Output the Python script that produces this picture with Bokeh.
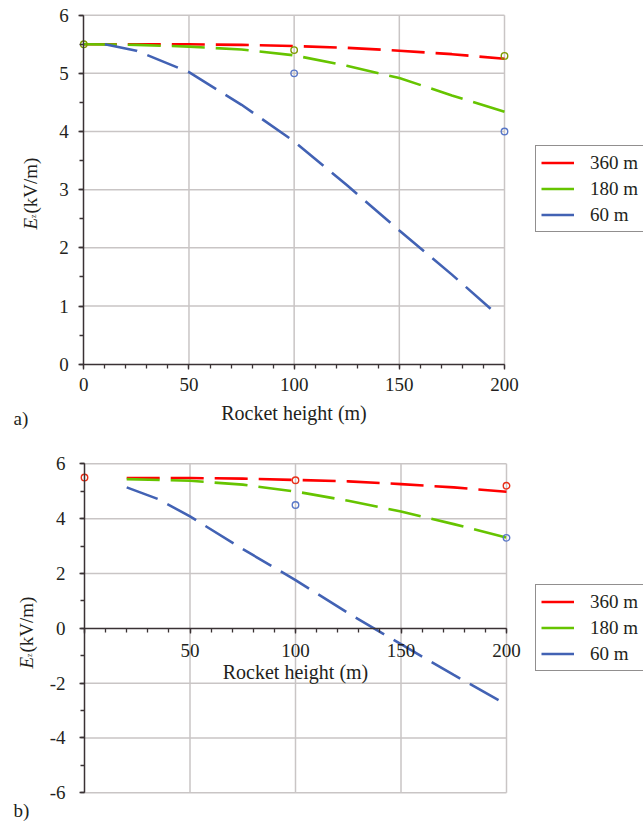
import math
from bokeh.plotting import figure
from bokeh.layouts import column
from bokeh.models import SingleIntervalTicker, Legend, LegendItem, Label, Range1d
from bokeh.embed import file_html
from bokeh.resources import INLINE

# ---------------- data: panel a) ----------------
a_x_360 = [0, 25, 50, 75, 100, 125, 150, 175, 200]
a_e_360 = [5.50, 5.50, 5.50, 5.49, 5.47, 5.44, 5.39, 5.33, 5.25]
a_x_180 = [0, 25, 50, 75, 100, 125, 150, 175, 200]
a_e_180 = [5.50, 5.49, 5.46, 5.41, 5.31, 5.13, 4.92, 4.62, 4.34]
a_x_60 = [10, 25, 50, 75, 100, 125, 150, 175, 197]
a_e_60 = [5.50, 5.39, 5.02, 4.46, 3.83, 3.08, 2.30, 1.54, 0.84]
a_pts1_x = [0, 100, 200]
a_pts1_e = [5.5, 5.4, 5.3]
a_pts2_x = [100, 200]
a_pts2_e = [5.0, 4.0]
a_ylim = (0, 6)
a_yticks_major = 1

# ---------------- data: panel b) ----------------
b_x_360 = [20, 50, 75, 100, 125, 150, 175, 200]
b_e_360 = [5.48, 5.48, 5.46, 5.41, 5.36, 5.26, 5.14, 4.98]
b_x_180 = [20, 50, 75, 100, 125, 150, 175, 200]
b_e_180 = [5.44, 5.38, 5.24, 4.99, 4.65, 4.26, 3.80, 3.31]
b_x_60 = [20, 35, 50, 75, 100, 125, 150, 175, 198]
b_e_60 = [5.14, 4.71, 4.08, 2.89, 1.76, 0.55, -0.58, -1.70, -2.70]
b_pts1_x = [0, 100, 200]
b_pts1_e = [5.5, 5.4, 5.2]
b_pts2_x = [100, 200]
b_pts2_e = [4.5, 3.3]
b_ylim = (-6, 6)
b_yticks_major = 2

series_names = ["360 m", "180 m", "60 m"]
xlim = (0, 200)
x_ticks_interval = 50
xlabel = "Rocket height (m)"

FONT = "Liberation Serif"
RED = "#ff0000"
GREEN = "#66c400"
BLUE = "#4262b4"
GRID = "#c9c5c5"
AXIS = "#3a3234"
TXT = "#231f20"
DASH = "33 11"

W = 643


def ranges(px0, px1, size_x, py_top, py_bot, size_y, ylim):
    # map data limits to chosen pixel positions; frame covers whole figure
    kx = (xlim[1] - xlim[0]) / (px1 - px0)
    x_rng = Range1d(xlim[0] - px0 * kx, xlim[0] + (size_x - px0) * kx)
    ky = (ylim[1] - ylim[0]) / (py_bot - py_top)
    y_rng = Range1d(ylim[0] - (size_y - py_bot) * ky, ylim[1] + py_top * ky)
    return x_rng, y_rng


def make_fig(H, px0, px1, py_top, py_bot, ylim, y_int, xstand, xlab_stand, ystand):
    xr, yr = ranges(px0, px1, W, py_top, py_bot, H, ylim)
    p = figure(width=W, height=H, x_range=xr, y_range=yr, min_border=0,
               output_backend="svg", toolbar_location=None, title=None)
    p.background_fill_color = "white"
    p.border_fill_color = "white"
    p.outline_line_color = None
    p.xgrid.visible = False
    p.ygrid.visible = False
    # grid lines restricted to the plotting box
    gx = list(range(xlim[0] + x_ticks_interval, xlim[1] + 1, x_ticks_interval))
    gy = [v for v in range(ylim[0], ylim[1] + 1, y_int) if v != 0]
    p.segment(x0=gx, y0=[ylim[0]] * len(gx), x1=gx, y1=[ylim[1]] * len(gx),
              line_color=GRID, line_width=1.5)
    p.segment(x0=[xlim[0]] * len(gy), y0=gy, x1=[xlim[1]] * len(gy), y1=gy,
              line_color=GRID, line_width=1.5)
    p.xaxis.ticker = SingleIntervalTicker(interval=x_ticks_interval, num_minor_ticks=5)
    p.yaxis.ticker = SingleIntervalTicker(interval=y_int, num_minor_ticks=2)
    p.xaxis.fixed_location = 0
    p.yaxis.fixed_location = 0
    p.xaxis.bounds = xlim
    p.yaxis.bounds = ylim
    for ax in (p.xaxis, p.yaxis):
        ax.axis_line_color = AXIS
        ax.axis_line_width = 1.5
        ax.major_tick_line_color = AXIS
        ax.minor_tick_line_color = AXIS
        ax.major_tick_line_width = 1.3
        ax.minor_tick_line_width = 1.3
        ax.major_tick_in = 0
        ax.major_tick_out = 5
        ax.minor_tick_in = 0
        ax.minor_tick_out = 4
        ax.major_label_text_font = FONT
        ax.major_label_text_font_size = "19px"
        ax.major_label_text_color = TXT
        ax.axis_label_text_font = FONT
        ax.axis_label_text_font_size = "20px"
        ax.axis_label_text_font_style = "normal"
        ax.axis_label_text_color = TXT
    p.xaxis.major_label_standoff = xstand
    p.xaxis.axis_label = xlabel
    p.xaxis.axis_label_standoff = xlab_stand
    p.yaxis.major_label_standoff = ystand
    p.yaxis.axis_label = None
    p.yaxis.major_label_overrides = {v: str(v) for v in range(ylim[0], ylim[1] + 1, y_int)}
    return p


def add_series(p, series, pts, legend_xy):
    rs = []
    for (x, e), c in zip(series, [RED, GREEN, BLUE]):
        rs.append(p.line(x, e, line_color=c, line_width=2.6, line_dash=DASH))
    for (px, pe), c in pts:
        p.scatter(px, pe, marker="circle", size=6.5, fill_color=None,
                  line_color=c, line_width=1.4)
    items = [LegendItem(label=n, renderers=[r]) for n, r in zip(series_names, rs)]
    leg = Legend(items=items, location=legend_xy, orientation="vertical")
    leg.label_text_font = FONT
    leg.label_text_font_size = "19px"
    leg.label_text_color = TXT
    leg.glyph_width = 33
    leg.glyph_height = 23
    leg.label_height = 23
    leg.label_standoff = 16
    leg.spacing = 3
    leg.padding = 5
    leg.margin = 0
    leg.border_line_color = TXT
    leg.border_line_width = 1.3
    leg.background_fill_alpha = 1
    p.add_layout(leg)


def ylabel(p, ex, ey):
    p.add_layout(Label(x=ex, y=ey, x_units="screen", y_units="screen", text="E",
                       angle=math.pi / 2, text_font=FONT, text_font_style="italic",
                       text_font_size="19px", text_color=TXT,
                       text_align="left", text_baseline="alphabetic"))
    p.add_layout(Label(x=ex + 3, y=ey + 11.6, x_units="screen", y_units="screen", text="z",
                       angle=math.pi / 2, text_font=FONT, text_font_size="8px", text_color=TXT,
                       text_align="left", text_baseline="alphabetic"))
    p.add_layout(Label(x=ex, y=ey + 16, x_units="screen", y_units="screen", text="(kV/m)",
                       angle=math.pi / 2, text_font=FONT,
                       text_font_size="19px", text_color=TXT,
                       text_align="left", text_baseline="alphabetic"))


def panel_tag(p, text, x, y):
    p.add_layout(Label(x=x, y=y, x_units="screen", y_units="screen", text=text,
                       text_font=FONT, text_font_size="19px", text_color=TXT,
                       text_align="left", text_baseline="alphabetic"))


# ---------------- panel a ----------------
H1 = 430
p1 = make_fig(H1, 83.3, 504.0, 14.7, 363.7, a_ylim, a_yticks_major, 9, 7, 10)
add_series(p1, [(a_x_360, a_e_360), (a_x_180, a_e_180), (a_x_60, a_e_60)],
           [((a_pts1_x, a_pts1_e), "#7f9a00"), ((a_pts2_x, a_pts2_e), "#5a78c8")],
           (535, 198))
ylabel(p1, 30, 201)
panel_tag(p1, "a)", 13, 12)

# ---------------- panel b ----------------
H2 = 391
p2 = make_fig(H2, 84.0, 506.0, 33.3, 362.3, b_ylim, b_yticks_major, 11, 0, 14)
p2.xaxis.major_label_overrides = {0: ""}
add_series(p2, [(b_x_360, b_e_360), (b_x_180, b_e_180), (b_x_60, b_e_60)],
           [((b_pts1_x, b_pts1_e), "#e8301a"), ((b_pts2_x, b_pts2_e), "#5a78c8")],
           (535, 150))
ylabel(p2, 25.5, 153)
panel_tag(p2, "b)", 13, 11)

layout = column(p1, p2, spacing=0)
open("out.html", "w").write(file_html(layout, INLINE))
